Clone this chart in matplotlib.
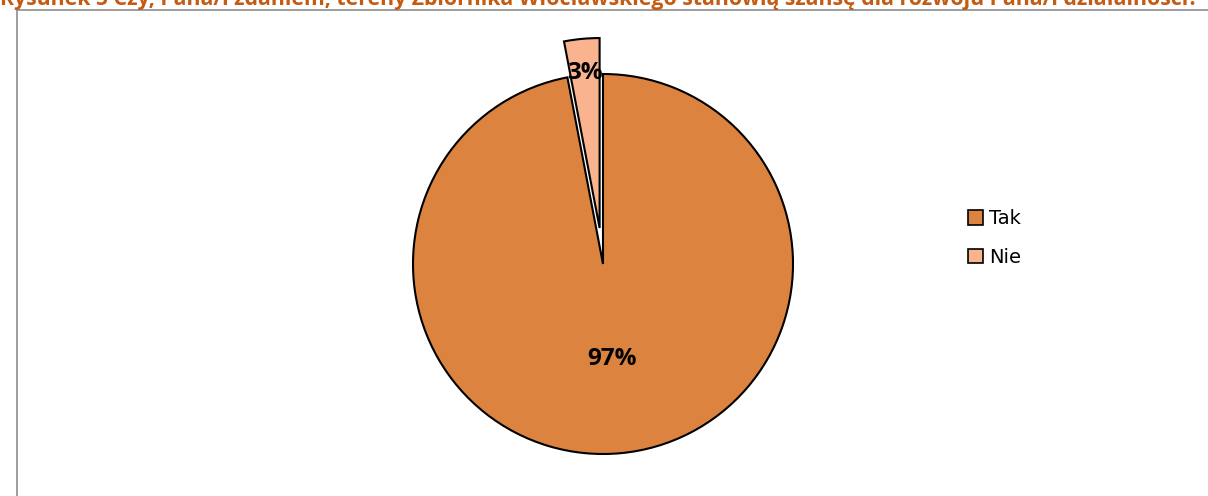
import numpy as np
import matplotlib.pyplot as plt
from matplotlib.patches import Rectangle

labels = ["Tak", "Nie"]
values = [97, 3]
colors = ["#DC843F", "#F9B48F"]
title = "Rysunek 5 Czy, Pana/i zdaniem, tereny Zbiornika Włocławskiego stanowią szansę dla rozwoju Pana/i działalności?"

W, H = 1208, 496
fig = plt.figure(figsize=(W / 100, H / 100), dpi=100)
fig.patch.set_facecolor("white")

# plot area frame
fig.patches.append(Rectangle((17 / W, -0.05), (W - 17) / W + 0.05, (H - 10) / H + 0.05,
                             transform=fig.transFigure, fill=False,
                             edgecolor="#8c8c8c", linewidth=1.2))

fig.text(0.0, 1.0 + 1 / H, title, ha="left", va="center", fontsize=15.3,
         fontweight="bold", color="#C55A11", family="Open Sans")

ax = fig.add_axes([0, 0, 1, 1])
cx, cy, r = 603, 232, 190
wedges, texts, autotexts = ax.pie(
    values, colors=colors, startangle=90, counterclock=False,
    explode=[0, 0.19 * r], center=(cx, cy), radius=r,
    autopct="%1.0f%%", pctdistance=0.5,
    wedgeprops=dict(edgecolor="black", linewidth=1.5),
    textprops=dict(fontsize=17.5, fontweight="bold", color="black", family="Open Sans"))

# move small slice label towards its outer edge
w = wedges[1]
mid = np.deg2rad((w.theta1 + w.theta2) / 2)
wx, wy = w.center
autotexts[1].set_position((wx + 0.82 * r * np.cos(mid), wy + 0.82 * r * np.sin(mid)))

ax.set_xlim(0, W)
ax.set_ylim(0, H)
ax.set_aspect("equal")
ax.axis("off")

leg = ax.legend(wedges, labels, loc="center left", bbox_to_anchor=(950 / W, 258 / H),
                frameon=False, fontsize=14, handlelength=0.8, handleheight=0.8,
                handletextpad=0.3, labelspacing=1.0)
for h in leg.legend_handles:
    h.set_linewidth(1.2)

fig.savefig("out.png", dpi=100)
